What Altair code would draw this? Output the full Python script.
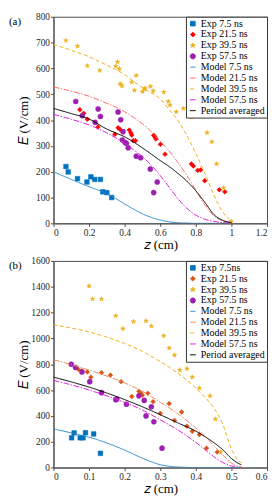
import math
import altair as alt
import pandas as pd

# ---------------- data: panel (a) ----------------
A_SERIES = ["Exp 7.5 ns", "Exp 21.5 ns", "Exp 39.5 ns", "Exp 57.5 ns",
            "Model 7.5 ns", "Model 21.5 ns", "Model 39.5 ns", "Model 57.5 ns",
            "Period averaged"]
A_COLORS = ["#0072BD", "#FF0000", "#EDB120", "#9C1FB0",
            "#2B8AD0", "#FF6A6A", "#EDB120", "#E020E0", "#000000"]

A_EXP7_Z = [0.07, 0.083, 0.135, 0.188, 0.21, 0.232, 0.264, 0.277, 0.30, 0.327]
A_EXP7_E = [220, 199, 173, 160, 180, 170, 170, 122, 119, 100]
A_EXP21_Z = [0.148, 0.17, 0.19, 0.25, 0.345, 0.363, 0.375, 0.426, 0.435, 0.44, 0.448, 0.461,
             0.563, 0.57, 0.576, 0.601, 0.627, 0.775, 0.786, 0.81, 0.827, 0.85, 0.932, 0.963]
A_EXP21_E = [440, 426, 403, 373, 345, 370, 363, 361, 350, 342, 320, 320,
             341, 335, 327, 306, 268, 230, 222, 205, 207, 165, 130, 122]
A_EXP39_Z = [0.07, 0.135, 0.19, 0.26, 0.35, 0.36, 0.37, 0.375, 0.385, 0.44, 0.455, 0.465,
             0.50, 0.51, 0.515, 0.545, 0.56, 0.62, 0.645, 0.655, 0.69, 0.73, 0.76, 0.775,
             0.83, 0.86, 0.863, 0.89, 0.917, 0.956, 1.0]
A_EXP39_E = [708, 686, 610, 592, 608, 625, 598, 540, 532, 547, 515, 572,
             510, 520, 523, 530, 513, 508, 472, 458, 432, 445, 445, 412,
             445, 415, 351, 316, 230, 137, 8]
A_EXP57_Z = [0.125, 0.162, 0.234, 0.251, 0.264, 0.363, 0.378, 0.387, 0.391, 0.402, 0.41, 0.42,
             0.465, 0.49, 0.544, 0.563, 0.583]
A_EXP57_E = [472, 417, 391, 443, 414, 431, 401, 323, 355, 313, 310, 293,
             260, 254, 210, 119, 160]

A_MOD_Z = [0.0, 0.1, 0.2, 0.3, 0.35, 0.4, 0.45, 0.5, 0.55, 0.6, 0.65, 0.7, 0.75,
           0.8, 0.85, 0.9, 0.95, 1.0]
A_MOD7_E = [200, 170, 142, 115, 96, 75, 55, 37, 23, 13, 6, 2, 1, 0, 0, 0, 0, 0]
A_MOD21_E = [528, 512, 492, 465, 450, 432, 410, 385, 355, 318, 280, 235, 185,
             128, 72, 30, 10, 3]
A_MOD39_E = [693, 670, 645, 612, 595, 576, 550, 525, 505, 482, 440, 398, 340,
             270, 195, 112, 45, 8]
A_MOD57_E = [422, 403, 381, 350, 331, 310, 285, 258, 225, 185, 140, 95, 58,
             32, 16, 8, 3, 0]
A_AVG_E = [445, 425, 404, 365, 350, 335, 315, 292, 268, 243, 220, 193, 163,
           126, 82, 35, 12, 3]

# ---------------- data: panel (b) ----------------
B_SERIES = ["Exp 7.5ns", "Exp 21.5 ns", "Exp 39.5 ns", "Exp 57.5 ns",
            "Model 7.5 ns", "Model 21.5 ns", "Model 39.5 ns", "Model 57.5 ns",
            "Period averaged"]
B_COLORS = ["#0072BD", "#D95319", "#EDB120", "#9C1FB0",
            "#2B8AD0", "#F08A5D", "#EDB120", "#E020E0", "#000000"]

B_EXP7_Z = [0.051, 0.058, 0.075, 0.083, 0.09, 0.113, 0.132]
B_EXP7_E = [230, 268, 230, 230, 270, 260, 110]
B_EXP21_Z = [0.07, 0.08, 0.095, 0.105, 0.135, 0.16, 0.19, 0.22, 0.24, 0.245, 0.25,
             0.265, 0.28, 0.30, 0.325, 0.34, 0.36, 0.375, 0.39, 0.41, 0.43, 0.46]
B_EXP21_E = [760, 750, 740, 700, 735, 715, 665, 550, 590, 575, 560,
             575, 510, 420, 495, 365, 430, 320, 280, 255, 150, 120]
B_EXP39_Z = [0.10, 0.11, 0.135, 0.175, 0.195, 0.225, 0.26, 0.275, 0.31, 0.325, 0.34,
             0.355, 0.375, 0.39, 0.41, 0.44, 0.455, 0.47]
B_EXP39_E = [1405, 1305, 1305, 1175, 1075, 1130, 1135, 1095, 1020, 925, 870,
             755, 765, 700, 615, 555, 375, 120]
B_EXP57_Z = [0.05, 0.062, 0.08, 0.102, 0.135, 0.175, 0.178, 0.205, 0.24, 0.255, 0.26,
             0.275, 0.282, 0.305]
B_EXP57_E = [800, 775, 740, 665, 580, 525, 530, 490, 555, 520, 400,
             470, 355, 150]

B_MOD_Z = [0.0, 0.05, 0.1, 0.15, 0.2, 0.25, 0.3, 0.35, 0.4, 0.425, 0.45, 0.475,
           0.5, 0.515, 0.528]
B_MOD7_E = [300, 268, 235, 190, 135, 72, 22, 4, 0, 0, 0, 0, 0, 0, 0]
B_MOD21_E = [835, 797, 755, 708, 655, 590, 506, 415, 306, 245, 170, 100, 35, 12, 5]
B_MOD39_E = [1105, 1080, 1050, 1010, 960, 900, 820, 730, 615, 545, 465, 340, 145, 70, 35]
B_MOD57_E = [675, 640, 600, 555, 505, 445, 370, 290, 195, 140, 85, 40, 12, 4, 2]
B_AVG_E = [700, 663, 623, 577, 526, 470, 409, 345, 282, 240, 194, 140, 70, 40, 20]

# ---------------- styling ----------------
FONT = "Liberation Serif"
STAR = "M " + " L ".join(
    f"{(1.0 if k % 2 == 0 else 0.42) * math.cos(-math.pi / 2 + k * math.pi / 5):.3f} "
    f"{(1.0 if k % 2 == 0 else 0.42) * math.sin(-math.pi / 2 + k * math.pi / 5):.3f}"
    for k in range(10)) + " Z"
SHAPES = ["square", "diamond", STAR, "circle"] + ["stroke"] * 5
SIZES = [22, 34, 60, 40] + [100] * 5
DASHES = [[1, 0]] * 4 + [[1, 0], [6, 1.5, 1.5, 1.5], [4, 2.5], [6, 1.5, 1.5, 1.5], [1, 0]]
WIDTHS = [1.0] * 4 + [1.2, 1.0, 1.3, 1.0, 2.0]


def build_panel(series, colors, exps, mod_z, mods, xmax, xstep, ymax, ystep, label):
    rows = []
    for name, (zs, es) in zip(series[:4], exps):
        rows += [{"s": name, "z": z, "E": e} for z, e in zip(zs, es)]
    pts = pd.DataFrame(rows)
    lrows = []
    for name, es in zip(series[4:], mods):
        lrows += [{"s": name, "z": z, "E": e} for z, e in zip(mod_z, es)]
    lines = pd.DataFrame(lrows)

    legend = alt.Legend(
        title=None, orient="top-right", offset=0, padding=2, rowPadding=1,
        labelFont=FONT, labelFontSize=10, labelColor="#000", labelOffset=3,
        labelLimit=200, strokeColor="#333", fillColor="white", symbolOpacity=1,
    )

    def sc(rng):
        return alt.Scale(domain=series, range=rng)

    fill = alt.Fill("s:N", scale=sc(colors), legend=legend)
    stroke = alt.Stroke("s:N", scale=sc(colors), legend=legend)
    xs = alt.Scale(domain=[0, xmax], nice=False)
    ys = alt.Scale(domain=[0, ymax], nice=False)
    xvals = [round(i * xstep, 3) for i in range(int(round(xmax / xstep)) + 1)]
    yvals = [i * ystep for i in range(int(ymax / ystep) + 1)]
    xax = alt.Axis(title="𝑧 (cm)", values=xvals, format="~r")
    yax = alt.Axis(title="𝐸 (V/cm)", values=yvals, format="~r")

    point_layer = alt.Chart(pts).mark_point(filled=True, opacity=1, strokeWidth=0.5).encode(
        x=alt.X("z:Q", scale=xs, axis=xax),
        y=alt.Y("E:Q", scale=ys, axis=yax),
        fill=fill, stroke=stroke,
        shape=alt.Shape("s:N", scale=sc(SHAPES), legend=legend),
        size=alt.Size("s:N", scale=sc(SIZES), legend=legend),
    )
    line_layer = alt.Chart(lines).mark_line(interpolate="monotone", clip=True).encode(
        x=alt.X("z:Q", scale=xs, axis=xax),
        y=alt.Y("E:Q", scale=ys, axis=yax),
        stroke=stroke,
        strokeDash=alt.StrokeDash("s:N", scale=sc(DASHES), legend=legend),
        strokeWidth=alt.StrokeWidth("s:N", scale=sc(WIDTHS), legend=legend),
    )
    return alt.layer(point_layer, line_layer).properties(
        width=216, height=209,
        title=alt.TitleParams(label, anchor="start", frame="group", orient="top",
                              offset=-15, dx=-45, baseline="top", font=FONT,
                              fontSize=11, fontWeight="normal", color="#000"),
    )


panel_a = build_panel(A_SERIES, A_COLORS,
                      [(A_EXP7_Z, A_EXP7_E), (A_EXP21_Z, A_EXP21_E),
                       (A_EXP39_Z, A_EXP39_E), (A_EXP57_Z, A_EXP57_E)],
                      A_MOD_Z, [A_MOD7_E, A_MOD21_E, A_MOD39_E, A_MOD57_E, A_AVG_E],
                      1.2, 0.2, 800, 100, "(a)")
panel_b = build_panel(B_SERIES, B_COLORS,
                      [(B_EXP7_Z, B_EXP7_E), (B_EXP21_Z, B_EXP21_E),
                       (B_EXP39_Z, B_EXP39_E), (B_EXP57_Z, B_EXP57_E)],
                      B_MOD_Z, [B_MOD7_E, B_MOD21_E, B_MOD39_E, B_MOD57_E, B_AVG_E],
                      0.6, 0.1, 1600, 200, "(b)")

chart = alt.vconcat(panel_a, panel_b, spacing=3).resolve_scale(
    fill="independent", stroke="independent", x="independent", y="independent",
    shape="independent", size="independent",
    strokeDash="independent", strokeWidth="independent",
).properties(
    padding={"top": 0, "left": 0, "right": 0, "bottom": 0},
).configure_view(
    stroke="#4d4d4d", strokeWidth=1,
).configure_axis(
    grid=False, labelFont=FONT, labelFontSize=9.5, labelColor="#262626",
    titleFont=FONT, titleFontSize=13, titleFontWeight="normal", titleColor="#000",
    domainColor="#4d4d4d", tickColor="#4d4d4d", tickSize=3, labelPadding=1,
).configure_axisY(
    minExtent=23, maxExtent=23, titlePadding=0,
).configure_axisX(
    titlePadding=2,
)

chart.save("out.html", embed_options={"renderer": "svg", "actions": False})
